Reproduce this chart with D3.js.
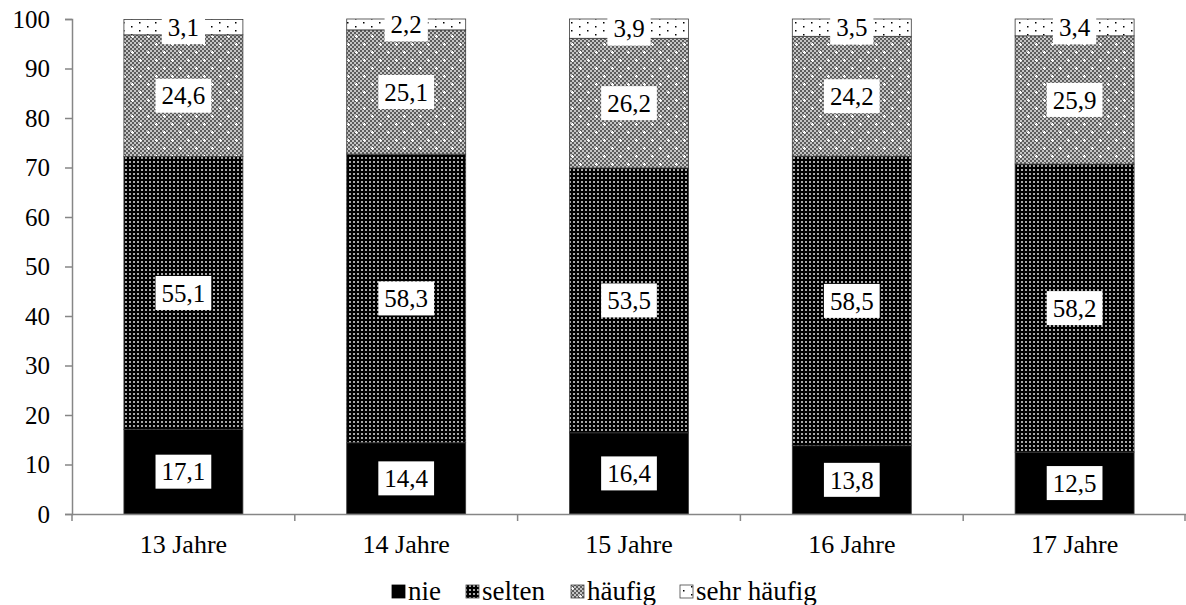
<!DOCTYPE html>
<html><head><meta charset="utf-8">
<script src="https://cdn.jsdelivr.net/npm/d3@7"></script>
<style>body{margin:0;background:#fff}svg{display:block}text{font-family:"Liberation Serif","Times New Roman",serif}</style>
</head><body><svg id="c" width="1186" height="605"></svg>
<script>
const categories = ["13 Jahre","14 Jahre","15 Jahre","16 Jahre","17 Jahre"];
const seriesNames = ["nie","selten","häufig","sehr häufig"];
const nie = [17.1,14.4,16.4,13.8,12.5];
const selten = [55.1,58.3,53.5,58.5,58.2];
const haeufig = [24.6,25.1,26.2,24.2,25.9];
const sehrHaeufig = [3.1,2.2,3.9,3.5,3.4];
const yTicks = [0,10,20,30,40,50,60,70,80,90,100];

const seriesValues = [nie, selten, haeufig, sehrHaeufig];
const fills = ["#000","url(#pSelten)","url(#pHaeufig)","url(#pSehr)"];

const svg = d3.select("#c");
const defs = svg.append("defs");
let p = defs.append("pattern").attr("id","pSelten").attr("width",4).attr("height",4).attr("patternUnits","userSpaceOnUse");
p.append("rect").attr("width",4).attr("height",4).attr("fill","#000");
p.append("rect").attr("x",1).attr("y",1).attr("width",2).attr("height",2).attr("fill","#a8a8a8");
p = defs.append("pattern").attr("id","pChk").attr("width",4).attr("height",4).attr("patternUnits","userSpaceOnUse");
p.append("rect").attr("width",4).attr("height",4).attr("fill","#5c5c5c");
p.append("rect").attr("width",2).attr("height",2).attr("fill","#c4c4c4");
p.append("rect").attr("x",2).attr("y",2).attr("width",2).attr("height",2).attr("fill","#c4c4c4");
p = defs.append("pattern").attr("id","pHaeufig").attr("width",16).attr("height",16).attr("patternUnits","userSpaceOnUse");
p.append("rect").attr("width",16).attr("height",16).attr("fill","url(#pChk)");
[[4,4],[12,12]].forEach(([x,y])=>{
  p.append("rect").attr("x",x-1).attr("y",y).attr("width",3).attr("height",1).attr("fill","#fff");
  p.append("rect").attr("x",x).attr("y",y-1).attr("width",1).attr("height",3).attr("fill","#fff");
});
p = defs.append("pattern").attr("id","pSehr").attr("width",16).attr("height",8).attr("patternUnits","userSpaceOnUse");
p.append("rect").attr("width",16).attr("height",8).attr("fill","#fff");
p.append("rect").attr("x",3).attr("y",2).attr("width",1.5).attr("height",1.5).attr("fill","#000");
p.append("rect").attr("x",11).attr("y",6).attr("width",1.5).attr("height",1.5).attr("fill","#000");

const x = d3.scaleBand().domain(categories).range([72,1186]).paddingInner(0.466).paddingOuter(0.233);
const y = d3.scaleLinear().domain([0,100]).range([514,19]);

const data = categories.map((c,i)=>{const o={cat:c}; seriesNames.forEach((s,j)=>o[s]=seriesValues[j][i]); return o;});
const stacked = d3.stack().keys(seriesNames)(data);

const g = svg.append("g");
stacked.forEach((layer,j)=>{
  g.selectAll(null).data(layer).enter().append("rect")
    .attr("x",d=>x(d.data.cat)).attr("width",x.bandwidth())
    .attr("y",d=>y(d[1])).attr("height",d=>y(d[0])-y(d[1]))
    .attr("fill",fills[j]).attr("stroke","#3a3a3a").attr("stroke-width",0.8);
});

const axisColor = "#868686";
const yAxis = svg.append("g").attr("transform","translate(72,0)")
  .call(d3.axisLeft(y).tickValues(yTicks).tickSize(7).tickPadding(15).tickFormat(d3.format("d")));
const xAxis = svg.append("g").attr("transform","translate(0,514)")
  .call(d3.axisBottom(x).tickSize(0).tickPadding(21));
[yAxis,xAxis].forEach(a=>{
  a.select(".domain").attr("stroke",axisColor).attr("stroke-width",1.5);
  a.selectAll(".tick line").attr("stroke",axisColor).attr("stroke-width",1.5);
  a.selectAll("text").attr("fill","#000");
});
yAxis.selectAll("text").attr("font-size",25);
xAxis.selectAll("text").attr("font-size",26);
xAxis.select(".domain").attr("d","M72,0.5H1186");
const bounds = categories.map(c=>x(c)-(x.step()-x.bandwidth())/2);
bounds.push(1185);
xAxis.selectAll(".bt").data(bounds).enter().append("line").attr("class","bt")
  .attr("x1",d=>d).attr("x2",d=>d).attr("y1",0).attr("y2",7).attr("stroke",axisColor).attr("stroke-width",1.5);

const fmt = v=>d3.format(".1f")(v).replace(".",",");
stacked.forEach(layer=>{
  layer.forEach(d=>{
    const cx = x(d.data.cat)+x.bandwidth()/2, cy = (y(d[0])+y(d[1]))/2;
    const lg = svg.append("g");
    const r = lg.append("rect").attr("fill","#fff");
    const t = lg.append("text").attr("x",cx).attr("y",cy).attr("text-anchor","middle").attr("dy","0.35em")
      .attr("font-size",25).text(fmt(d[1]-d[0]));
    const w = t.node().getComputedTextLength();
    r.attr("x",cx-w/2-6).attr("y",cy-17).attr("width",w+12).attr("height",34);
  });
});

const legendX = [392,466,571,680];
const lg = svg.append("g");
seriesNames.forEach((s,j)=>{
  lg.append("rect").attr("x",legendX[j]).attr("y",585).attr("width",13).attr("height",13)
    .attr("fill",fills[j]).attr("stroke", j==0?"#000":"#444").attr("stroke-width",0.8);
  lg.append("text").attr("x",legendX[j]+16).attr("y",600).attr("font-size",27).text(s);
});
</script></body></html>
